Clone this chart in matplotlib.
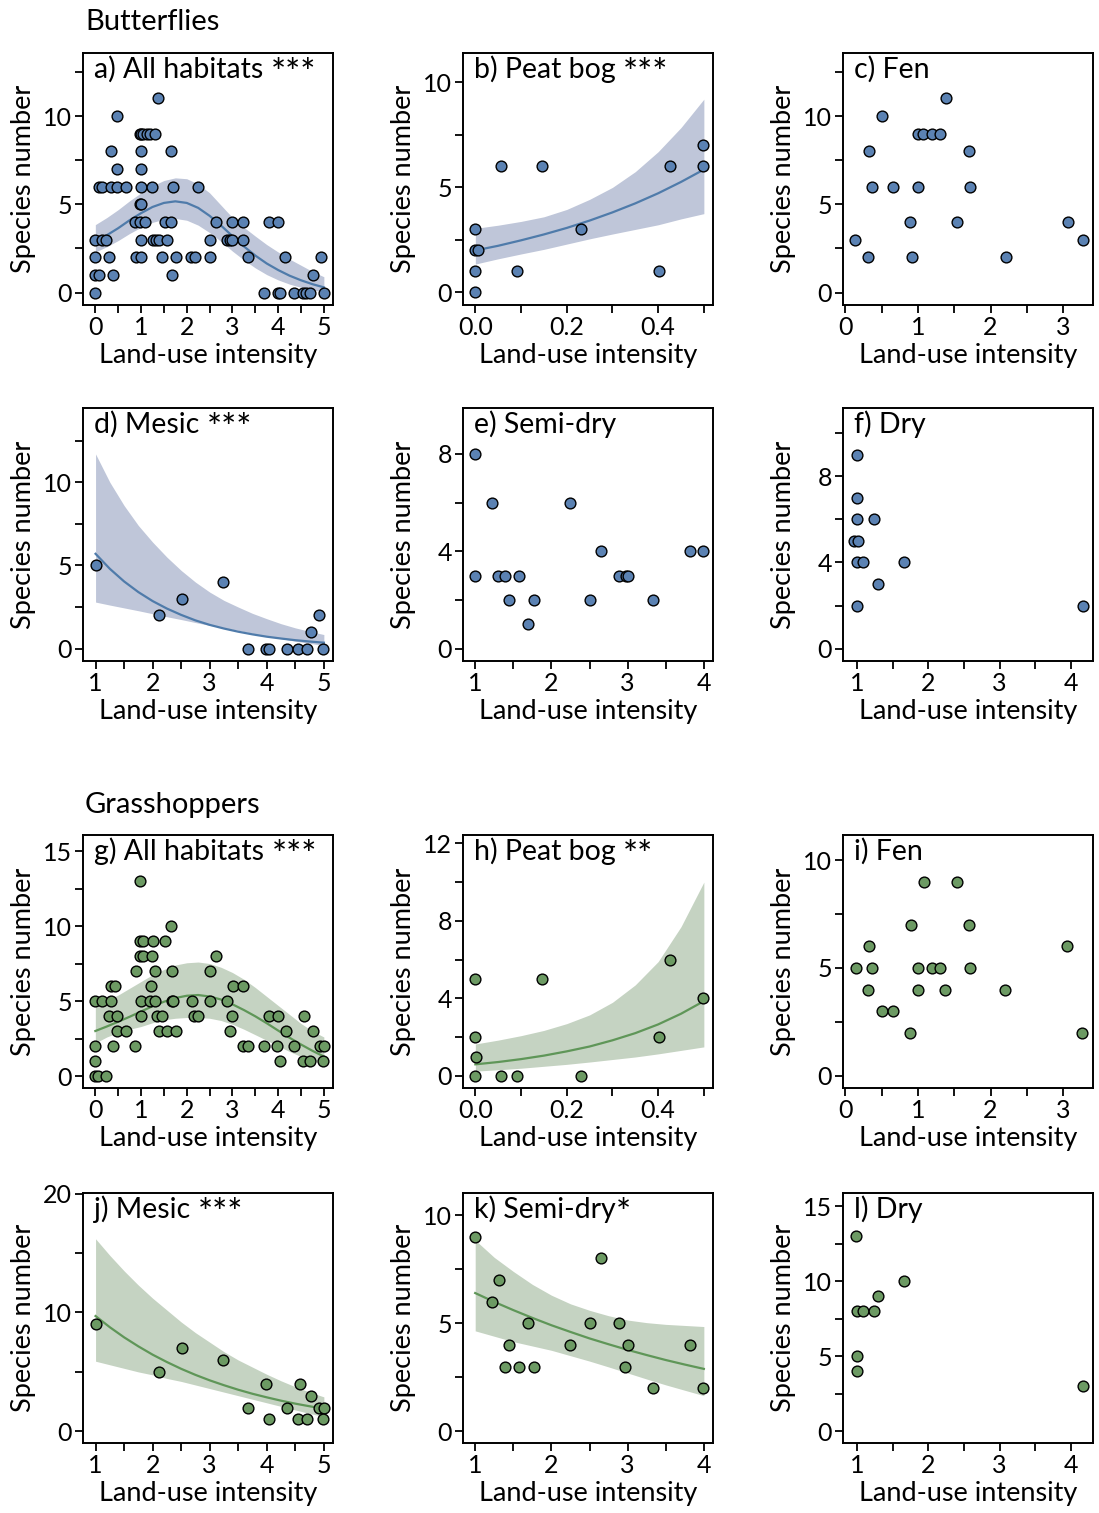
import matplotlib
matplotlib.use('Agg')
import matplotlib.pyplot as plt

plt.rcParams['font.family'] = ['Lato', 'DejaVu Sans']

# ---- colours ----
BLUE_PT, BLUE_BAND, BLUE_LINE = '#5B82B3', '#BFC6D9', '#4F7BAA'
GREEN_PT, GREEN_BAND, GREEN_LINE = '#6C9A63', '#C5D3C2', '#5F9658'

# ---- Butterflies ----
a_x = [0, 0, 0.07, 0, 0, 0.07, 0.15, 0.15, 0.24, 0.29, 0.35, 0.39, 0.35, 0.47, 0.66,
       0.47, 0.47, 0.86, 0.97, 1.08, 0.9, 1.0, 0.97, 1.0, 1.04, 1.12, 1.0, 1.0, 1.0,
       0.97, 1.0, 1.0, 1.23, 1.19, 1.3, 1.26, 1.33, 1.4, 1.37, 1.45, 1.52, 1.66, 1.57,
       1.66, 1.7, 1.68, 1.77, 2.1, 2.18, 2.24, 2.5, 2.5, 2.65, 2.87, 2.94, 3.0, 3.0,
       3.23, 3.23, 3.33, 3.69, 3.79, 4.0, 4.0, 4.05, 4.15, 4.35, 4.55, 4.62, 4.69,
       4.77, 4.93, 5.0]
a_y = [0, 1, 1, 2, 3, 6, 6, 3, 3, 2, 8, 1, 6, 6, 6,
       7, 10, 4, 4, 4, 2, 2, 9, 9, 9, 9, 8, 7, 6,
       5, 5, 3, 6, 9, 9, 3, 3, 3, 11, 2, 4, 4, 3,
       8, 6, 1, 2, 2, 2, 6, 3, 2, 4, 3, 3, 3, 4,
       4, 3, 2, 0, 4, 4, 0, 0, 2, 0, 0, 0, 0,
       1, 2, 0]
a_fit_x = [0, 0.25, 0.5, 0.75, 1, 1.25, 1.5, 1.75, 2, 2.25, 2.5, 2.75, 3, 3.25, 3.5,
           3.75, 4, 4.25, 4.5, 4.75, 5]
a_fit = [2.9, 3.25, 3.65, 4.1, 4.5, 4.85, 5.08, 5.17, 5.08, 4.8, 4.35, 3.8, 3.2, 2.62,
         2.1, 1.65, 1.28, 0.96, 0.7, 0.48, 0.3]
a_hi = [3.85, 4.25, 4.7, 5.2, 5.65, 6.05, 6.35, 6.5, 6.45, 6.15, 5.65, 4.95, 4.25, 3.7,
        3.2, 2.72, 2.3, 1.9, 1.55, 1.2, 0.9]
a_lo = [2.3, 2.6, 2.95, 3.35, 3.7, 3.98, 4.15, 4.2, 4.1, 3.82, 3.4, 2.9, 2.35, 1.85,
        1.4, 1.02, 0.72, 0.48, 0.3, 0.15, 0.05]

b_x = [0, 0, 0, 0.005, 0, 0.057, 0.091, 0.146, 0.231, 0.401, 0.425, 0.499, 0.499]
b_y = [0, 1, 2, 2, 3, 6, 1, 6, 3, 1, 6, 6, 7]
b_fit_x = [0, 0.05, 0.1, 0.15, 0.2, 0.25, 0.3, 0.35, 0.4, 0.45, 0.5]
b_fit = [2.0, 2.22, 2.48, 2.76, 3.07, 3.42, 3.81, 4.24, 4.72, 5.26, 5.85]
b_hi = [3.05, 3.2, 3.38, 3.6, 3.95, 4.43, 5.0, 5.75, 6.7, 7.85, 9.2]
b_lo = [1.35, 1.6, 1.83, 2.05, 2.3, 2.55, 2.78, 3.0, 3.22, 3.5, 3.75]

c_x = [0.14, 0.31, 0.33, 0.37, 0.5, 0.66, 0.89, 0.92, 1.0, 1.0, 1.07, 1.19, 1.31, 1.39,
       1.54, 1.7, 1.72, 2.21, 3.06, 3.27]
c_y = [3, 2, 8, 6, 10, 6, 4, 2, 9, 6, 9, 9, 9, 11, 4, 8, 6, 2, 4, 3]

d_x = [1, 2.12, 2.51, 3.24, 3.67, 3.98, 4.04, 4.36, 4.55, 4.7, 4.77, 4.91, 4.99]
d_y = [5, 2, 3, 4, 0, 0, 0, 0, 0, 0, 1, 2, 0]
d_fit_x = [1, 1.25, 1.5, 1.75, 2, 2.25, 2.5, 2.75, 3, 3.25, 3.5, 3.75, 4, 4.25, 4.5,
           4.75, 5]
d_fit = [5.7, 4.8, 4.04, 3.4, 2.86, 2.41, 2.03, 1.7, 1.43, 1.21, 1.02, 0.86, 0.72, 0.61,
         0.51, 0.43, 0.36]
d_hi = [11.7, 10.0, 8.6, 7.4, 6.4, 5.5, 4.7, 4.0, 3.4, 2.9, 2.5, 2.12, 1.8, 1.5, 1.25,
        1.04, 0.85]
d_lo = [2.8, 2.62, 2.45, 2.28, 2.1, 1.92, 1.75, 1.57, 1.4, 1.25, 1.1, 0.92, 0.75, 0.6,
        0.45, 0.32, 0.2]

e_x = [1, 1, 1.22, 1.3, 1.39, 1.45, 1.57, 1.69, 1.77, 2.25, 2.51, 2.65, 2.89, 2.98, 3.01,
       3.33, 3.82, 3.99]
e_y = [8, 3, 6, 3, 3, 2, 3, 1, 2, 6, 2, 4, 3, 3, 3, 2, 4, 4]

f_x = [1, 1, 1, 1.23, 0.96, 1.01, 1, 1.08, 1.29, 1.66, 1, 4.17]
f_y = [9, 7, 6, 6, 5, 5, 4, 4, 3, 4, 2, 2]

# ---- Grasshoppers ----
g_x = [0, 0.06, 0.23, 0, 0, 0, 0.15, 0.29, 0.35, 0.42, 0.35, 0.39, 0.47, 0.47, 0.66,
       0.86, 0.88, 0.97, 0.97, 1.04, 0.97, 1.04, 1.0, 1.0, 1.23, 1.26, 1.19, 1.31, 1.21,
       1.31, 1.34, 1.45, 1.39, 1.57, 1.77, 1.52, 1.66, 1.68, 1.68, 1.7, 2.11, 2.16, 2.25,
       2.5, 2.5, 2.65, 2.89, 2.94, 3.0, 3.01, 3.23, 3.23, 3.33, 3.69, 3.79, 4.0, 3.98,
       4.04, 4.17, 4.35, 4.56, 4.55, 4.69, 4.77, 4.91, 5.0, 4.99]
g_y = [0, 0, 0, 1, 2, 5, 5, 4, 6, 6, 5, 2, 4, 3, 3,
       2, 7, 13, 9, 9, 8, 8, 5, 4, 8, 9, 5, 5, 6,
       7, 4, 4, 3, 3, 3, 9, 10, 7, 5, 5, 5, 4, 4,
       7, 5, 8, 5, 3, 4, 6, 6, 2, 2, 2, 4, 4, 2,
       1, 3, 2, 4, 1, 1, 3, 2, 2, 1]
g_fit_x = a_fit_x
g_fit = [3.0, 3.3, 3.62, 3.95, 4.3, 4.65, 4.95, 5.2, 5.35, 5.4, 5.3, 5.1, 4.78, 4.4,
         3.98, 3.52, 3.03, 2.55, 2.1, 1.68, 1.3]
g_hi = [4.8, 5.05, 5.4, 5.85, 6.3, 6.75, 7.1, 7.4, 7.55, 7.6, 7.5, 7.25, 6.9, 6.45,
        5.9, 5.3, 4.7, 4.1, 3.5, 3.0, 2.6]
g_lo = [2.2, 2.6, 2.9, 3.12, 3.3, 3.55, 3.75, 3.85, 3.9, 3.9, 3.85, 3.7, 3.45, 3.12,
        2.75, 2.38, 2.0, 1.63, 1.3, 1.03, 0.8]

h_x = [0, 0, 0.002, 0, 0.057, 0.091, 0.146, 0.231, 0.401, 0.425, 0.499]
h_y = [0, 2, 1, 5, 0, 0, 5, 0, 2, 6, 4]
h_fit_x = b_fit_x
h_fit = [0.6, 0.72, 0.87, 1.05, 1.27, 1.52, 1.84, 2.21, 2.66, 3.21, 3.86]
h_hi = [1.65, 1.85, 2.08, 2.35, 2.7, 3.15, 3.8, 4.7, 5.9, 7.7, 10.0]
h_lo = [0.25, 0.32, 0.4, 0.5, 0.6, 0.72, 0.85, 0.98, 1.14, 1.32, 1.5]

i_x = [0.15, 0.31, 0.33, 0.37, 0.5, 0.66, 0.89, 0.91, 1.0, 1.0, 1.08, 1.19, 1.31, 1.38,
       1.54, 1.7, 1.72, 2.2, 3.05, 3.26]
i_y = [5, 4, 6, 5, 3, 3, 2, 7, 4, 5, 9, 5, 5, 4, 9, 7, 5, 4, 6, 2]

j_x = [1, 2.12, 2.51, 3.24, 3.67, 3.98, 4.04, 4.36, 4.55, 4.59, 4.7, 4.77, 4.91, 5.0, 4.99]
j_y = [9, 5, 7, 6, 2, 4, 1, 2, 1, 4, 1, 3, 2, 2, 1]
j_fit_x = d_fit_x
j_fit = [9.7, 8.76, 7.91, 7.15, 6.45, 5.83, 5.26, 4.75, 4.29, 3.88, 3.5, 3.16, 2.86,
         2.58, 2.33, 2.11, 1.9]
j_hi = [16.2, 14.8, 13.5, 12.3, 11.2, 10.2, 9.2, 8.3, 7.5, 6.7, 6.0, 5.4, 4.8, 4.25,
        3.75, 3.3, 2.9]
j_lo = [5.9, 5.6, 5.3, 5.0, 4.75, 4.45, 4.2, 3.9, 3.6, 3.3, 3.0, 2.7, 2.4, 2.1, 1.8,
        1.5, 1.25]

k_x = [1, 1.22, 1.31, 1.45, 1.39, 1.57, 1.69, 1.77, 2.25, 2.51, 2.65, 2.89, 3.0, 2.97,
       3.33, 3.82, 3.99]
k_y = [9, 6, 7, 4, 3, 3, 5, 3, 4, 5, 8, 5, 4, 3, 2, 4, 2]
k_fit_x = [1, 1.25, 1.5, 1.75, 2, 2.25, 2.5, 2.75, 3, 3.25, 3.5, 3.75, 4]
k_fit = [6.4, 5.99, 5.61, 5.25, 4.91, 4.6, 4.3, 4.03, 3.77, 3.53, 3.3, 3.09, 2.89]
k_hi = [8.85, 8.05, 7.4, 6.8, 6.3, 5.9, 5.6, 5.35, 5.15, 5.03, 4.95, 4.9, 4.85]
k_lo = [4.65, 4.4, 4.15, 3.95, 3.75, 3.5, 3.25, 2.98, 2.7, 2.42, 2.15, 1.9, 1.65]

l_x = [0.98, 1, 1.08, 1.23, 1.29, 1.66, 1, 1, 4.17]
l_y = [13, 8, 8, 8, 9, 10, 5, 4, 3]

# ---- layout (pixels in a 1099 x 1513 figure) ----
W, H = 1099, 1513
cols = [(83, 333), (463, 713), (843, 1093)]
rows = [(53, 305), (408, 661), (835, 1088), (1193, 1443)]

TICK_FS, LABEL_FS, TITLE_FS, HEAD_FS = 18, 19.5, 20.5, 21

fig = plt.figure(figsize=(W / 100, H / 100), dpi=100)


def make_ax(r, c):
    x0, x1 = cols[c]
    y0, y1 = rows[r]
    return fig.add_axes([x0 / W, 1 - y1 / H, (x1 - x0) / W, (y1 - y0) / H])


def panel(ax, px, py, title, stars, xlim, ylim, yt, ytm, xt, xtm, pt, xtl=None,
          fit=None, band=None, line=None):
    if fit is not None:
        fx, fm, flo, fhi = fit
        ax.fill_between(fx, flo, fhi, color=band, lw=0, zorder=1)
        ax.plot(fx, fm, color=line, lw=1.6, zorder=2)
    ax.scatter(px, py, s=60, c=pt, edgecolors='black', linewidths=1.0, zorder=3,
               clip_on=False)
    ax.set_xlim(*xlim)
    ax.set_ylim(*ylim)
    ax.set_yticks(yt)
    ax.set_yticks(ytm, minor=True)
    ax.set_xticks(xt)
    ax.set_xticks(xtm, minor=True)
    if xtl is not None:
        ax.set_xticklabels(xtl)
    for s in ax.spines.values():
        s.set_linewidth(1.4)
    ax.tick_params(which='both', direction='out', length=6, width=1.3,
                   labelsize=TICK_FS, pad=2)
    ax.set_xlabel('Land-use intensity', fontsize=LABEL_FS)
    ax.set_ylabel('Species number', fontsize=LABEL_FS)
    ax.xaxis.set_label_coords(0.5, -0.15)
    ax.yaxis.set_label_coords(-0.19, 0.5)
    t = ax.text(0.045, 0.99, title, transform=ax.transAxes, ha='left', va='top',
                fontsize=TITLE_FS)
    if stars:
        # significance stars drawn a little larger, as in the original
        ax.annotate(stars, xy=(1, 1), xycoords=t, xytext=(0, -2),
                    textcoords='offset points', ha='left', va='top',
                    fontsize=TITLE_FS * 1.25)


half5 = [0.5, 1.5, 2.5, 3.5, 4.5]

ax = make_ax(0, 0)
panel(ax, a_x, a_y, 'a) All habitats ', '***', (-0.27, 5.2), (-0.7, 13.57), [0, 5, 10],
      [2.5, 7.5, 12.5], [0, 1, 2, 3, 4, 5], half5, BLUE_PT,
      fit=(a_fit_x, a_fit, a_lo, a_hi), band=BLUE_BAND, line=BLUE_LINE)
ax = make_ax(0, 1)
panel(ax, b_x, b_y, 'b) Peat bog ', '***', (-0.027, 0.52), (-0.6, 11.4), [0, 5, 10],
      [2.5, 7.5], [0, 0.2, 0.4], [0.1, 0.3, 0.5], BLUE_PT, xtl=['0.0', '0.2', '0.4'],
      fit=(b_fit_x, b_fit, b_lo, b_hi), band=BLUE_BAND, line=BLUE_LINE)
ax = make_ax(0, 2)
panel(ax, c_x, c_y, 'c) Fen', '', (-0.03, 3.41), (-0.7, 13.57), [0, 5, 10],
      [2.5, 7.5, 12.5], [0, 1, 2, 3], [0.5, 1.5, 2.5], BLUE_PT)

ax = make_ax(1, 0)
panel(ax, d_x, d_y, 'd) Mesic ', '***', (0.78, 5.16), (-0.74, 14.46), [0, 5, 10],
      [2.5, 7.5, 12.5], [1, 2, 3, 4, 5], [1.5, 2.5, 3.5, 4.5], BLUE_PT,
      fit=(d_fit_x, d_fit, d_lo, d_hi), band=BLUE_BAND, line=BLUE_LINE)
ax = make_ax(1, 1)
panel(ax, e_x, e_y, 'e) Semi-dry', '', (0.84, 4.12), (-0.5, 9.88), [0, 4, 8], [2, 6],
      [1, 2, 3, 4], [1.5, 2.5, 3.5], BLUE_PT)
ax = make_ax(1, 2)
panel(ax, f_x, f_y, 'f) Dry', '', (0.8, 4.31), (-0.57, 11.16), [0, 4, 8], [2, 6, 10],
      [1, 2, 3, 4], [1.5, 2.5, 3.5], BLUE_PT)

ax = make_ax(2, 0)
panel(ax, g_x, g_y, 'g) All habitats ', '***', (-0.27, 5.2), (-0.8, 16.07),
      [0, 5, 10, 15], [2.5, 7.5, 12.5], [0, 1, 2, 3, 4, 5], half5, GREEN_PT,
      fit=(g_fit_x, g_fit, g_lo, g_hi), band=GREEN_BAND, line=GREEN_LINE)
ax = make_ax(2, 1)
panel(ax, h_x, h_y, 'h) Peat bog ', '**', (-0.027, 0.52), (-0.62, 12.43), [0, 4, 8, 12],
      [2, 6, 10], [0, 0.2, 0.4], [0.1, 0.3, 0.5], GREEN_PT, xtl=['0.0', '0.2', '0.4'],
      fit=(h_fit_x, h_fit, h_lo, h_hi), band=GREEN_BAND, line=GREEN_LINE)
ax = make_ax(2, 2)
panel(ax, i_x, i_y, 'i) Fen', '', (-0.03, 3.41), (-0.56, 11.16), [0, 5, 10], [2.5, 7.5],
      [0, 1, 2, 3], [0.5, 1.5, 2.5], GREEN_PT)

ax = make_ax(3, 0)
panel(ax, j_x, j_y, 'j) Mesic ', '***', (0.78, 5.16), (-0.98, 20.05), [0, 10, 20], [5, 15],
      [1, 2, 3, 4, 5], [1.5, 2.5, 3.5, 4.5], GREEN_PT,
      fit=(j_fit_x, j_fit, j_lo, j_hi), band=GREEN_BAND, line=GREEN_LINE)
ax = make_ax(3, 1)
panel(ax, k_x, k_y, 'k) Semi-dry', '*', (0.84, 4.12), (-0.54, 11.03), [0, 5, 10],
      [2.5, 7.5], [1, 2, 3, 4], [1.5, 2.5, 3.5], GREEN_PT,
      fit=(k_fit_x, k_fit, k_lo, k_hi), band=GREEN_BAND, line=GREEN_LINE)
ax = make_ax(3, 2)
panel(ax, l_x, l_y, 'l) Dry', '', (0.8, 4.31), (-0.78, 15.9), [0, 5, 10, 15],
      [2.5, 7.5, 12.5], [1, 2, 3, 4], [1.5, 2.5, 3.5], GREEN_PT)

fig.text(85 / W, 1 - 22 / H, 'Butterflies', fontsize=HEAD_FS, ha='left', va='center')
fig.text(85 / W, 1 - 805 / H, 'Grasshoppers', fontsize=HEAD_FS, ha='left', va='center')

fig.savefig('out.png', dpi=100)
